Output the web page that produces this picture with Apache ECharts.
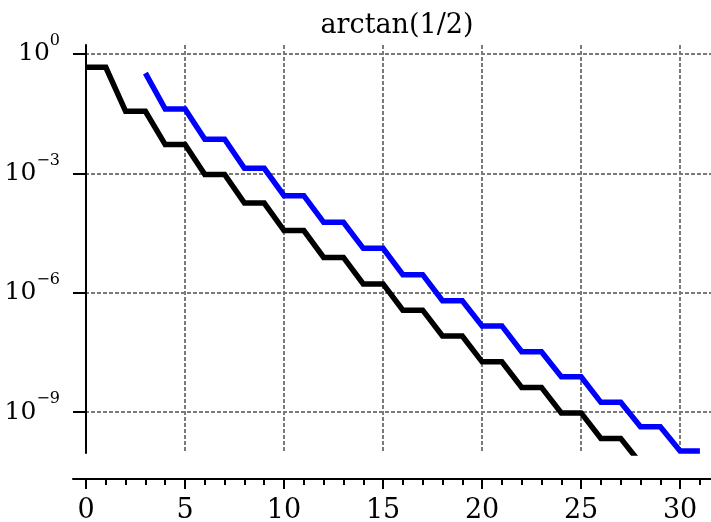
<!DOCTYPE html>
<html>
<head>
<meta charset="utf-8">
<script src="https://cdn.jsdelivr.net/npm/echarts@6/dist/echarts.min.js"></script>
<style>
html, body { margin: 0; padding: 0; background: #fff; }
#chart { width: 711px; height: 522px; }
</style>
</head>
<body>
<div id="chart"></div>
<script>
// error of the series
const blackX = [0, 1, 2, 3, 4, 5, 6, 7, 8, 9, 10, 11, 12, 13, 14, 15, 16, 17, 18, 19, 20, 21, 22, 23, 24, 25, 26, 27, 28];
const blackY = [0.4636, 0.4636, 0.03635, 0.03635, 5.31e-3, 5.31e-3, 9.36e-4, 9.36e-4, 1.80e-4, 1.80e-4,
  3.67e-5, 3.67e-5, 7.72e-6, 7.72e-6, 1.67e-6, 1.67e-6, 3.67e-7, 3.67e-7, 8.2e-8, 8.2e-8,
  1.84e-8, 1.84e-8, 4.2e-9, 4.2e-9, 9.6e-10, 9.6e-10, 2.2e-10, 2.2e-10, 5.2e-11];

const blueX = [3, 4, 5, 6, 7, 8, 9, 10, 11, 12, 13, 14, 15, 16, 17, 18, 19, 20, 21, 22, 23, 24, 25, 26, 27, 28, 29, 30, 31];
const blueY = [0.33, 0.0415, 0.0415, 7.2e-3, 7.2e-3, 1.34e-3, 1.34e-3, 2.75e-4, 2.75e-4, 5.9e-5, 5.9e-5,
  1.31e-5, 1.31e-5, 2.85e-6, 2.85e-6, 6.3e-7, 6.3e-7, 1.47e-7, 1.47e-7, 3.3e-8, 3.3e-8,
  7.8e-9, 7.8e-9, 1.77e-9, 1.77e-9, 4.3e-10, 4.3e-10, 1.06e-10, 1.06e-10];

const xLabels = [0, 5, 10, 15, 20, 25, 30];
const xMinorTicks = [0, 1, 2, 3, 4, 5, 6, 7, 8, 9, 10, 11, 12, 13, 14, 15, 16, 17, 18, 19, 20, 21, 22, 23, 24, 25, 26, 27, 28, 29, 30, 31];
const xGridLines = [5, 10, 15, 20, 25, 30];
const yTicks = [1e-9, 1e-6, 1e-3, 1];

const font = "DejaVu Serif";
const xMin = -0.657, xMax = 31.56;
const yMin = Math.pow(10, -10.025), yMax = Math.pow(10, 0.226);
const gridLine = { color: "#7a7a7a", width: 2, type: [4, 2] };

let myChart = echarts.init(document.getElementById("chart"));
myChart.setOption({
  animation: false,
  title: {
    text: "arctan(1/2)",
    left: 392,
    top: 7,
    textAlign: "center",
    textStyle: { fontFamily: font, fontSize: 27, fontWeight: "normal", color: "#000" }
  },
  grid: { left: 73, right: 0, top: 45, bottom: 69, containLabel: false, outerBoundsMode: "none" },
  xAxis: [
    {
      type: "value", position: "bottom", min: xMin, max: xMax, offset: 26,
      axisLine: { onZero: false, lineStyle: { color: "#000", width: 2 } },
      axisTick: { customValues: xMinorTicks, length: 6, lineStyle: { color: "#000", width: 2 } },
      axisLabel: { customValues: xLabels, margin: 18, color: "#000", fontFamily: font, fontSize: 27 },
      splitLine: { show: false }
    },
    {
      type: "value", position: "bottom", min: xMin, max: xMax, offset: 26,
      axisLine: { show: false, onZero: false },
      axisTick: { customValues: xLabels, length: 10, lineStyle: { color: "#000", width: 2 } },
      axisLabel: { show: false },
      splitLine: { show: false }
    },
    {
      type: "value", position: "bottom", min: xMin, max: xMax,
      axisLine: { show: false, onZero: false },
      axisTick: { show: false, customValues: xGridLines },
      axisLabel: { show: false },
      splitLine: { show: true, lineStyle: gridLine }
    }
  ],
  yAxis: {
    type: "log", logBase: 10, min: yMin, max: yMax,
    axisLine: { onZero: true, lineStyle: { color: "#000", width: 2 } },
    axisTick: { customValues: yTicks, length: 13, lineStyle: { color: "#000", width: 2 } },
    axisLabel: {
      customValues: yTicks,
      margin: 13,
      formatter: function (v) {
        let e = Math.round(Math.log10(v));
        return "{b|10}{s|" + (e < 0 ? "\u2212" + (-e) : e) + "}";
      },
      rich: {
        b: { fontFamily: font, fontSize: 25, color: "#000", lineHeight: 42 },
        s: { fontFamily: font, fontSize: 16, color: "#000", lineHeight: 18, verticalAlign: "top" }
      }
    },
    splitLine: { show: true, lineStyle: gridLine }
  },
  series: [
    {
      name: "black",
      type: "line",
      xAxisIndex: 0,
      data: blackX.map((x, i) => [x, blackY[i]]),
      showSymbol: false,
      clip: true,
      lineStyle: { color: "#000", width: 5.5, join: "miter", cap: "butt" }
    },
    {
      name: "blue",
      type: "line",
      xAxisIndex: 0,
      data: blueX.map((x, i) => [x, blueY[i]]),
      showSymbol: false,
      clip: true,
      lineStyle: { color: "#0000ff", width: 5.5, join: "miter", cap: "butt" }
    }
  ]
});
</script>
</body>
</html>
